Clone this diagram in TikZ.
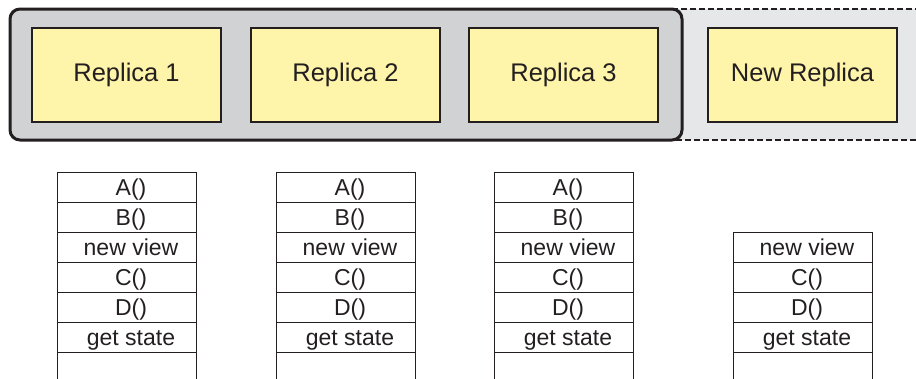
\documentclass[tikz,border=0pt]{standalone}
\usepackage{fontspec}
\setmainfont{Liberation Sans}
\definecolor{ink}{HTML}{231F20}
\definecolor{replicafill}{HTML}{FFF5AA}
\definecolor{groupfill}{HTML}{D1D2D4}
\definecolor{joinfill}{HTML}{E6E7E8}
\begin{document}
\begin{tikzpicture}[x=1pt,y=-1pt,
  replica/.style={draw=ink, line width=1.3pt, fill=replicafill,
    minimum width=189pt, minimum height=94pt, inner sep=0pt,
    font=\fontsize{25.5}{30}\selectfont, text=ink},
  cell/.style={draw=ink, line width=1pt, minimum width=139pt,
    minimum height=30pt, inner sep=0pt, anchor=north west,
    text height=17pt, text depth=1pt,
    font=\fontsize{23}{27}\selectfont, text=ink},
  openside/.style={draw=ink, line width=1pt}
]
\useasboundingbox (0,0) rectangle (916,378);
\clip (0,0) rectangle (916,378);

% region of the joining replica (dashed, runs off the right edge)
\draw[ink, line width=2.8pt, dash pattern=on 6pt off 3pt, fill=joinfill]
  (600,9) rectangle (940,140);
% current group of replicas
\draw[ink, line width=3pt, fill=groupfill, rounded corners=10pt]
  (10,9) rectangle (682,140);

% replicas
\node[replica] (r1) at (126.5,75) {Replica 1};
\node[replica] (r2) at (345.5,75) {Replica 2};
\node[replica] (r3) at (563.5,75) {Replica 3};
\node[replica] (rn) at (802.5,75) {New Replica};

% log entries sit a little right of the cell centre
\newcommand{\entry}[1]{\hspace*{8pt}#1}

% message logs of the group members
\foreach \c/\x in {1/57,2/276,3/494} {
  \foreach \t [count=\k from 0] in {A(),B(),new view,C(),D(),get state,{}} {
    \node[cell] (s\c-\k) at (\x,{172+30*\k}) {\entry{\t}};
  }
  \coordinate (e\c-l) at (\x,380);
  \coordinate (e\c-r) at ({\x+139},380);
  \draw[openside] (s\c-6.south west) -- (e\c-l);
  \draw[openside] (s\c-6.south east) -- (e\c-r);
}

% message log of the new replica
\foreach \t [count=\k from 2] in {new view,C(),D(),get state,{}} {
  \node[cell] (s4-\k) at (733,{172+30*\k}) {\entry{\t}};
}
\coordinate (e4-l) at (733,380);
\coordinate (e4-r) at (872,380);
\draw[openside] (s4-6.south west) -- (e4-l);
\draw[openside] (s4-6.south east) -- (e4-r);
\end{tikzpicture}
\end{document}
